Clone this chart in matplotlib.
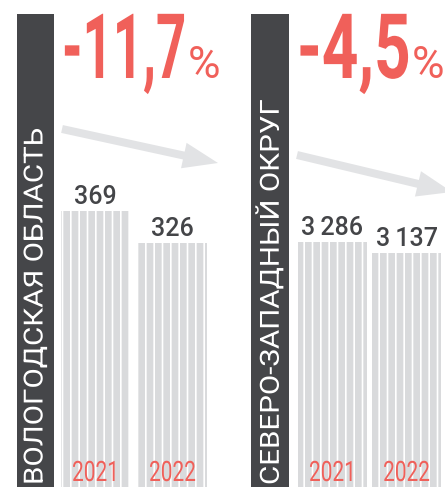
import matplotlib
matplotlib.use("Agg")
import matplotlib.pyplot as plt
from matplotlib.patheffects import AbstractPathEffect
from matplotlib.text import Text
from matplotlib.transforms import Affine2D, offset_copy

# data
years = ["2021", "2022"]
region_names = ["ВОЛОГОДСКАЯ ОБЛАСТЬ", "СЕВЕРО-ЗАПАДНЫЙ ОКРУГ"]
vologda = [369, 326]
nw_district = [3286, 3137]

RED = "#f0605a"
DARK = "#454649"
BAR = "#d9dadc"
ARROW = "#e2e3e5"
TEXT = "#444548"
FONT = ["Roboto", "DejaVu Sans"]

plt.rcParams["hatch.linewidth"] = 1.2


class Stretch(AbstractPathEffect):
    """stretch glyphs around the text anchor (fakes a condensed face)"""
    def __init__(self, text):
        super().__init__()
        self.text = text

    def draw_path(self, renderer, gc, tpath, affine, rgbFace=None):
        t = self.text
        x0, y0 = t.get_transform().transform(t.get_unitless_position())
        m = Affine2D().translate(-x0, -y0).scale(t.sx, t.sy).translate(x0, y0)
        renderer.draw_path(gc, tpath, affine + m, rgbFace)


class StretchedText(Text):
    def __init__(self, x, y, s, sx=1.0, sy=1.0, **kw):
        super().__init__(x, y, s, **kw)
        self.sx, self.sy = sx, sy
        self.set_path_effects([Stretch(self)])


def add_text(ax, x, y, s, transform=None, **kw):
    t = StretchedText(x, y, s, **kw)
    t.set_transform(transform or ax.transData)
    t.set_clip_on(False)
    ax.add_artist(t)
    return t


def fmt(v):
    return f"{v:,}".replace(",", "\u2009")


fig = plt.figure(figsize=(4.45, 4.87), dpi=100)
bg = fig.add_axes([0, 0, 1, 1])
bg.set_xlim(0, 445)
bg.set_ylim(487, 0)
bg.axis("off")

# layout per panel (pixels)
panels = [
    dict(vals=vologda, label=region_names[0], band=(17, 54), bars=(61, 207), width=0.896,
         frac=0.567, pct_x=62, pct_size=38, arrow=(62, 129, 218, 163)),
    dict(vals=nw_district, label=region_names[1], band=(251, 289), bars=(298, 441), width=0.93,
         frac=0.503, pct_x=297, pct_size=46, arrow=(297, 155, 452, 192)),
]

for p in panels:
    vals = p["vals"]
    b0, b1 = p["band"]
    bg.add_patch(plt.Rectangle((b0, 14), b1 - b0, 480, color=DARK, lw=0))
    add_text(bg, (b0 + b1) / 2, 485, p["label"], sy=1.12, rotation=90, ha="center",
             va="bottom", color="white", fontsize=19, family=FONT)

    change = (vals[1] - vals[0]) / vals[0] * 100
    pct = f"{change:.1f}".replace(".", ",")
    p["num"] = add_text(bg, p["pct_x"], 78, pct, sy=65 / p["pct_size"], ha="left",
                        va="baseline", color=RED, fontsize=p["pct_size"],
                        fontweight="bold", family=FONT)
    p["sign"] = bg.text(0, 78, "%", ha="left", va="baseline", color=RED, fontsize=32,
                        family=FONT)

    x0, y0, x1, y1 = p["arrow"]
    bg.arrow(x0, y0, x1 - x0, y1 - y0, width=8, head_width=26, head_length=35,
             length_includes_head=True, color=ARROW, lw=0)

    l, r = p["bars"]
    w = p["width"]
    ax = fig.add_axes([l / 445, 0, (r - l) / 445, 1])
    ax.bar([0, 1], vals, width=w, color=BAR, edgecolor="white", linewidth=0, hatch="||")
    ax.set_xlim(-w / 2, 1 + w / 2)
    ax.set_ylim(0, max(vals) / p["frac"])
    ax.axis("off")
    year_tr = offset_copy(ax.transData, fig=fig, x=0, y=6, units="dots")
    for i, v in enumerate(vals):
        ax.annotate(fmt(v), (i, v), xytext=(0, 5), textcoords="offset points",
                    ha="center", va="baseline", color=TEXT, fontsize=18,
                    fontweight="medium", family=FONT)
        add_text(ax, i, 0, years[i], transform=year_tr, sy=1.35, ha="center",
                 va="baseline", color=RED, fontsize=15, family=FONT)

# put the % sign right after the number
fig.canvas.draw()
r = fig.canvas.get_renderer()
for p in panels:
    bb = p["num"].get_window_extent(r)
    p["sign"].set_x(bb.x1 + 1)

fig.savefig("out.png", dpi=100)
